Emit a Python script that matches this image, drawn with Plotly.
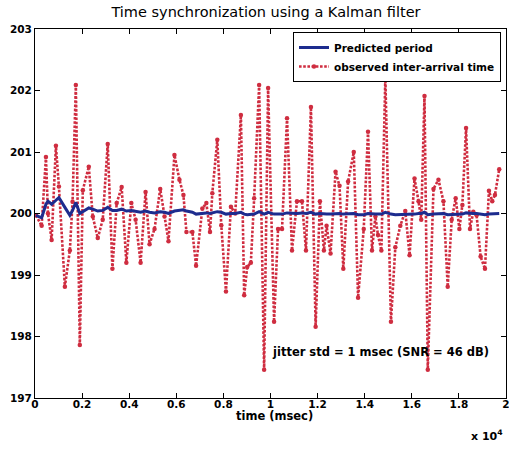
import plotly.graph_objects as go

# time of each observation (msec)
time_ms = [42, 283, 465, 550, 706, 888, 1015, 1269, 1480, 1595, 1734, 1903, 2030, 2284, 2453,
           2665, 2876, 3088, 3287, 3469, 3680, 3879, 4090, 4272, 4484, 4695, 4864, 5076, 5317,
           5499, 5668, 5922, 6133, 6303, 6430, 6683, 6840, 7106, 7276, 7432, 7529, 7741, 7910,
           8109, 8320, 8502, 8743, 8883, 9010, 9166, 9306, 9517, 9729, 9898, 10152, 10321, 10490,
           10702, 10913, 11125, 11336, 11506, 11717, 11916, 12098, 12267, 12381, 12550, 12762,
           12931, 13092, 13295, 13536, 13718, 13959, 14141, 14310, 14454, 14564, 14708, 14877,
           15114, 15300, 15512, 15723, 15905, 16116, 16286, 16400, 16539, 16679, 16920, 17132,
           17343, 17525, 17694, 17863, 18020, 18147, 18303, 18472, 18612, 18752, 18921, 19107,
           19276, 19416, 19530, 19712]

observed = [199.97, 199.8, 200.92, 200.0, 199.57, 201.1, 200.44, 198.81, 199.4, 200.19, 202.09,
            197.86, 200.38, 200.76, 199.95, 199.6, 199.9, 201.13, 199.1, 200.17, 200.43, 199.2,
            200.17, 199.9, 199.2, 200.35, 199.5, 199.75, 200.4, 199.95, 199.55, 200.95, 200.55,
            200.3, 199.7, 199.7, 199.15, 200.08, 200.17, 199.7, 200.33, 201.2, 199.81, 198.73,
            200.11, 200.0, 201.6, 198.67, 199.13, 199.2, 200.25, 202.09, 197.46, 202.04, 198.24,
            199.75, 199.75, 201.55, 199.4, 200.2, 200.2, 199.4, 201.73, 198.16, 200.2, 199.4,
            199.8, 199.35, 200.68, 200.45, 199.1, 200.52, 201.0, 198.63, 199.75, 201.33, 199.4,
            199.95, 199.65, 199.4, 202.22, 198.24, 199.45, 199.8, 200.04, 199.32, 200.57, 200.2,
            199.9, 201.91, 197.46, 200.4, 200.55, 200.2, 198.81, 199.9, 200.25, 199.75, 200.14,
            201.39, 199.75, 200.03, 199.97, 199.3, 199.1, 200.37, 200.2, 200.3, 200.72]

predicted = [199.97, 199.93, 200.15, 200.2, 200.15, 200.22, 200.26, 200.1, 199.97, 200.05, 200.18,
             200.0, 200.03, 200.09, 200.07, 200.04, 200.05, 200.1, 200.05, 200.05, 200.07, 200.04,
             200.05, 200.04, 200.02, 200.04, 200.02, 200.01, 200.03, 200.02, 200.0, 200.04, 200.05,
             200.06, 200.04, 200.02, 199.99, 200.0, 200.01, 200.0, 200.01, 200.03, 200.02, 199.99,
             200.0, 200.0, 200.02, 199.99, 199.98, 199.98, 199.99, 200.03, 199.99, 200.02, 199.99,
             199.99, 199.99, 200.01, 200.0, 200.0, 200.01, 200.0, 200.02, 199.99, 200.0, 199.99,
             199.99, 199.99, 200.0, 200.0, 199.99, 199.99, 200.0, 199.98, 199.98, 200.0, 199.99,
             199.99, 199.99, 199.99, 200.02, 199.99, 199.98, 199.98, 199.99, 199.98, 199.99, 200.0,
             200.0, 200.02, 199.98, 199.99, 200.0, 200.0, 199.98, 199.98, 199.99, 199.99, 199.99,
             200.01, 200.0, 200.0, 200.0, 199.99, 199.98, 199.99, 199.99, 199.99, 200.0]

x_tick_vals = [0, 2000, 4000, 6000, 8000, 10000, 12000, 14000, 16000, 18000, 20000]
x_tick_text = ["0", "0.2", "0.4", "0.6", "0.8", "1", "1.2", "1.4", "1.6", "1.8", "2"]
y_tick_vals = [197, 198, 199, 200, 201, 202, 203]

FONT = "DejaVu Sans"
RED = "#cf2d40"
BLUE = "#1d2c8e"

# plot area in pixels
L, R, T, B = 35, 506, 29, 398
W, H = 509, 449
PW, PH = R - L, B - T

def px_x(px):
    return (px - L) / PW

def px_y(py):
    return (B - py) / PH

fig = go.Figure()
fig.add_trace(go.Scatter(x=time_ms, y=observed, mode="lines+markers",
                         name="observed inter-arrival time",
                         line=dict(color=RED, width=2.6, dash="2.6px,1.6px"),
                         marker=dict(color=RED, size=4.5)))
fig.add_trace(go.Scatter(x=time_ms, y=predicted, mode="lines", name="Predicted period",
                         line=dict(color=BLUE, width=3)))

tickfont = dict(family=FONT, size=10.5, color="black", weight="bold")
axis_common = dict(showline=True, linecolor="black", linewidth=1, mirror="ticks",
                   ticks="inside", ticklen=5, tickcolor="black", showgrid=False,
                   zeroline=False, automargin=False, tickfont=tickfont,
                   ticklabeloverflow="allow")

fig.update_layout(
    width=W, height=H,
    margin=dict(l=L, r=W - R, t=T, b=H - B),
    paper_bgcolor="white", plot_bgcolor="white",
    font=dict(family=FONT, color="black"),
    title=dict(text="Time synchronization using a Kalman filter", x=px_x(266), xref="paper",
               xanchor="center", y=1 - 12 / H, yref="container", yanchor="middle",
               font=dict(family=FONT, size=14.5, color="black")),
    xaxis=dict(range=[0, 20000], tickvals=x_tick_vals, ticktext=x_tick_text,
               ticklabelstandoff=-4, **axis_common),
    yaxis=dict(range=[197, 203], tickvals=y_tick_vals, **axis_common),
    legend=dict(x=px_x(501), xanchor="right", y=px_y(32), yanchor="top", bgcolor="white",
                bordercolor="black", borderwidth=1,
                font=dict(family=FONT, size=10.5, color="black", weight="bold"),
                traceorder="reversed", tracegroupgap=0),
    showlegend=True,
    annotations=[
        dict(text="jitter std = 1 msec (SNR = 46 dB)", x=px_x(380), y=px_y(352),
             xref="paper", yref="paper", showarrow=False, xanchor="center", yanchor="middle",
             font=dict(family=FONT, size=11.5, color="black", weight="bold")),
        dict(text="time (msec)", x=px_x(274), y=px_y(416), xref="paper", yref="paper",
             showarrow=False, xanchor="center", yanchor="middle",
             font=dict(family=FONT, size=11.5, color="black", weight="bold")),
        dict(text="x 10<sup>4</sup>", x=px_x(505), y=px_y(436), xref="paper",
             yref="paper", showarrow=False, xanchor="right", yanchor="middle",
             font=dict(family=FONT, size=11, color="black", weight="bold")),
    ],
)

fig.write_html("out.html", config={"displayModeBar": False},
               post_script="document.body.style.margin='0px';")
